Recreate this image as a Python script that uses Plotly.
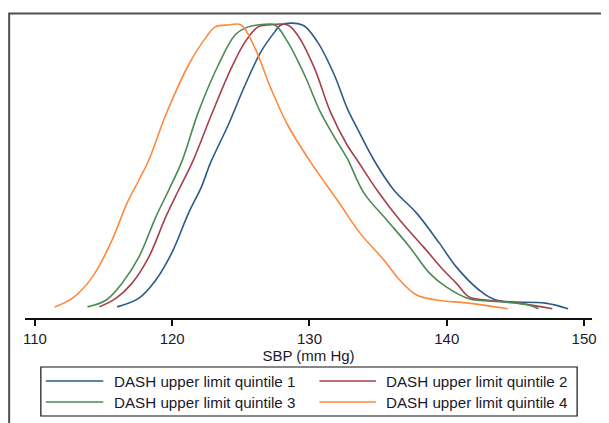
import plotly.graph_objects as go

# ---- data (SBP, kernel density) ----
q1_x = [115.99, 117.58, 118.81, 119.96, 121.19, 122.13, 122.78, 124.08, 125.31, 126.46, 127.47, 127.91, 129.49,
        130.58, 131.81, 132.74, 133.47, 134.69, 136.14, 137.80, 139.46, 140.69, 142.35, 143.57, 147.18, 148.84]
q1_y = [0.0005, 0.0019, 0.0048, 0.0091, 0.0155, 0.0197, 0.0235, 0.0296, 0.0360, 0.0413, 0.0445, 0.0456, 0.0456,
        0.0429, 0.0376, 0.0323, 0.0291, 0.0240, 0.0192, 0.0155, 0.0107, 0.0069, 0.0032, 0.0016, 0.0011, 0.0002]

q2_x = [114.69, 115.92, 117.08, 118.30, 119.53, 120.47, 121.48, 122.85, 124.30, 125.31, 126.25, 126.97, 128.41,
        129.13, 130.36, 131.52, 132.74, 133.47, 134.91, 136.57, 138.30, 139.75, 140.69, 141.62, 142.85, 145.23, 147.69]
q2_y = [0.0005, 0.0019, 0.0043, 0.0085, 0.0149, 0.0192, 0.0237, 0.0312, 0.0387, 0.0429, 0.0453, 0.0456, 0.0456,
        0.0440, 0.0387, 0.0317, 0.0264, 0.0240, 0.0192, 0.0144, 0.0101, 0.0064, 0.0043, 0.0021, 0.0016, 0.0011, 0.0002]

q3_x = [113.83, 115.20, 116.35, 117.58, 118.81, 119.75, 120.69, 121.91, 123.36, 124.58, 125.52, 126.25, 127.47,
        128.41, 129.64, 130.79, 132.02, 132.74, 133.97, 135.63, 137.29, 138.74, 139.96, 141.62, 144.08, 145.96, 146.68]
q3_y = [0.0005, 0.0016, 0.0043, 0.0085, 0.0149, 0.0192, 0.0237, 0.0317, 0.0392, 0.0440, 0.0453, 0.0456, 0.0456,
        0.0429, 0.0376, 0.0317, 0.0269, 0.0243, 0.0187, 0.0144, 0.0101, 0.0059, 0.0037, 0.0018, 0.0013, 0.0008, 0.0002]

q4_x = [111.44, 112.74, 114.19, 115.56, 116.71, 117.58, 118.30, 119.53, 121.19, 122.42, 123.14, 124.08, 125.02,
        126.03, 127.18, 128.41, 130.07, 132.02, 133.68, 135.42, 136.57, 137.80, 139.24, 141.62, 144.44]
q4_y = [0.0005, 0.0019, 0.0053, 0.0109, 0.0171, 0.0208, 0.0240, 0.0312, 0.0392, 0.0435, 0.0453, 0.0456, 0.0456,
        0.0419, 0.0355, 0.0296, 0.0237, 0.0176, 0.0123, 0.0080, 0.0048, 0.0024, 0.0016, 0.0011, 0.0002]

series_names = ["DASH upper limit quintile 1", "DASH upper limit quintile 2",
                "DASH upper limit quintile 3", "DASH upper limit quintile 4"]
series_x = [q1_x, q2_x, q3_x, q4_x]
series_y = [q1_y, q2_y, q3_y, q4_y]
colors = ["#2c5a8a", "#a5404c", "#4b8a52", "#fd8a3e"]

x_ticks = [110, 120, 130, 140, 150]
x_title = "SBP (mm Hg)"

# ---- layout geometry; page body has an 8px margin, so work in window pixels ----
OFF = 8
W, H = 609 - OFF, 423 - OFF
ML, MR, MT, MB = 25 - OFF, 12, 20 - OFF, 423 - 318
PW, PH = W - ML - MR, H - MT - MB
FONT = "Liberation Sans, Arial"
TXT = "#1a1a2a"


def px(x):  # window pixel x -> paper
    return (x - OFF - ML) / PW


def py(y):  # window pixel y -> paper
    return (H - MB - (y - OFF)) / PH


fig = go.Figure()
for name, xs, ys, c in zip(series_names, series_x, series_y, colors):
    fig.add_trace(go.Scatter(x=xs, y=ys, mode="lines", name=name,
                             line=dict(color=c, width=1.6, shape="spline", smoothing=1.0),
                             showlegend=False))

shapes = []
# outer frame (top + left visible)
shapes.append(dict(type="rect", xref="paper", yref="paper",
                   x0=px(9), x1=px(640), y0=py(13.5), y1=py(460),
                   line=dict(color="#505050", width=2), fillcolor="rgba(0,0,0,0)"))
# legend box
shapes.append(dict(type="rect", xref="paper", yref="paper",
                   x0=px(41), x1=px(582), y0=py(367), y1=py(416),
                   line=dict(color="#111111", width=1.2), fillcolor="rgba(0,0,0,0)"))
annotations = []
leg_pos = [(46, 104, 113, 381), (322, 379, 387, 381), (46, 104, 113, 402), (322, 379, 387, 402)]
for (lx0, lx1, tx, ly), name, c in zip(leg_pos, series_names, colors):
    shapes.append(dict(type="line", xref="paper", yref="paper",
                       x0=px(lx0), x1=px(lx1), y0=py(ly), y1=py(ly),
                       line=dict(color=c, width=1.6)))
    annotations.append(dict(xref="paper", yref="paper", x=px(tx), y=py(ly),
                            xanchor="left", yanchor="middle", text=name, showarrow=False,
                            font=dict(family=FONT, size=15.2, color=TXT)))

fig.update_layout(
    width=W, height=H,
    margin=dict(l=ML, r=MR, t=MT, b=MB),
    paper_bgcolor="white", plot_bgcolor="white",
    shapes=shapes, annotations=annotations,
    xaxis=dict(range=[110 - 10 / 13.85, 150 + 8 / 13.85], tickvals=x_ticks,
               ticktext=[str(t) for t in x_ticks],
               showline=True, linecolor="#111111", linewidth=1.5,
               ticks="outside", ticklen=6, tickwidth=1.5, tickcolor="#111111",
               showgrid=False, zeroline=False,
               tickfont=dict(family=FONT, size=15, color=TXT),
               title=dict(text=x_title, standoff=0,
                          font=dict(family=FONT, size=15, color=TXT))),
    yaxis=dict(range=[-0.00128, 0.0464], visible=False, showgrid=False, zeroline=False),
)

fig.write_html("out.html")
